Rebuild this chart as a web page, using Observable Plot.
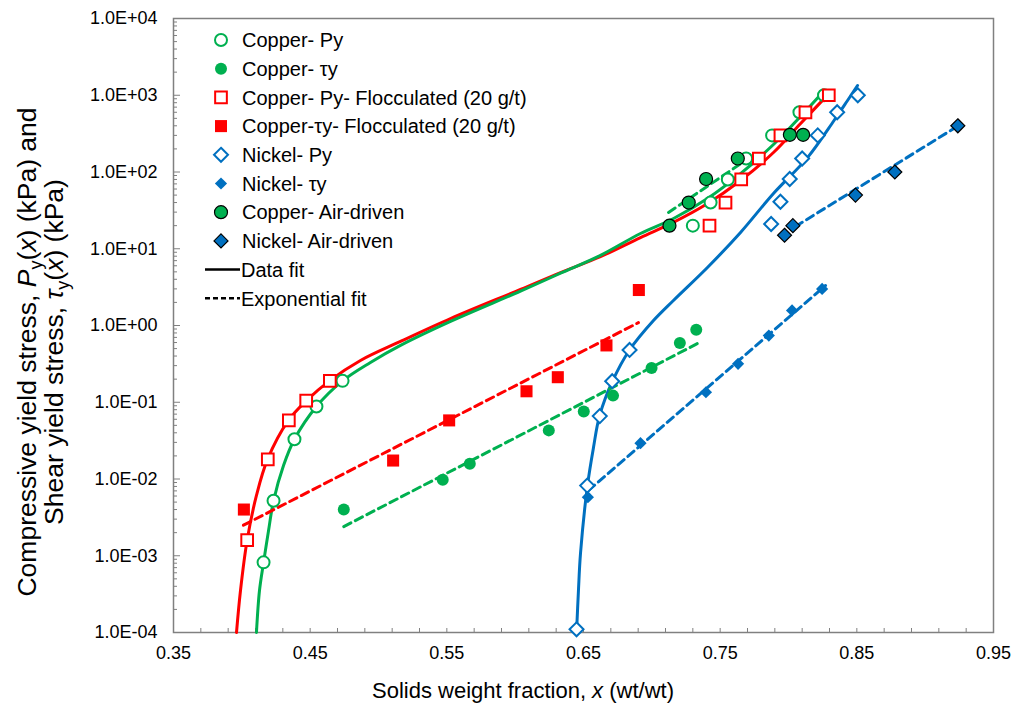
<!DOCTYPE html>
<html><head><meta charset="utf-8">
<script src="https://cdn.jsdelivr.net/npm/d3@7"></script>
<script src="https://cdn.jsdelivr.net/npm/@observablehq/plot@0.6"></script>
<style>body{margin:0;background:#fff;} #chart svg{display:block;}</style>
</head><body><div id="chart"></div>
<script>
// ---------- data ----------
const cuPyX  = [0.4159, 0.4232, 0.4385, 0.4546, 0.4737, 0.730, 0.743, 0.7556, 0.769, 0.788, 0.808, 0.826];
const cuPyY  = [0.00082, 0.0052, 0.033, 0.088, 0.19, 20, 40, 80, 150, 300, 600, 1000];
const cuTyX  = [0.4746, 0.547, 0.5668, 0.6246, 0.6502, 0.6716, 0.6998, 0.7205, 0.7325];
const cuTyY  = [0.004, 0.0098, 0.0158, 0.043, 0.076, 0.122, 0.28, 0.59, 0.88];
const cuPyFX = [0.4039, 0.419, 0.4344, 0.4471, 0.4644, 0.7422, 0.7539, 0.7654, 0.7783, 0.7941, 0.8124, 0.8295];
const cuPyFY = [0.0016, 0.018, 0.058, 0.105, 0.19, 20, 40, 80, 150, 300, 600, 1000];
const cuTyFX = [0.4015, 0.5107, 0.5517, 0.6083, 0.6312, 0.6668, 0.6905];
const cuTyFY = [0.004, 0.0174, 0.058, 0.139, 0.212, 0.55, 2.9];
const niPyX  = [0.6449, 0.6527, 0.6619, 0.671, 0.6837, 0.7873, 0.7941, 0.8009, 0.81, 0.8214, 0.8356, 0.8507];
const niPyY  = [0.00011, 0.0082, 0.066, 0.188, 0.48, 21, 41, 81, 150, 300, 600, 1000];
const niTyX  = [0.6532, 0.6917, 0.7396, 0.7631, 0.7856, 0.8026, 0.8246];
const niTyY  = [0.0058, 0.0293, 0.135, 0.317, 0.74, 1.57, 3.0];
const cuAirX = [0.7129, 0.727, 0.7397, 0.7629, 0.801, 0.8107];
const cuAirY = [20, 40, 81, 150, 305, 305];
const niAirX = [0.7971, 0.8032, 0.849, 0.8778, 0.9239];
const niAirY = [15, 20, 50, 100, 400];

// data-fit curves (solid)
const redFitX = [0.3961, 0.3990, 0.4039, 0.4107, 0.4188, 0.4341, 0.4473, 0.4641, 0.4868, 0.5161, 0.5527, 0.6039, 0.6332, 0.6624, 0.6917, 0.7161, 0.7405, 0.7649, 0.7892, 0.8087, 0.8295];
const redFitY = [1e-4, 3.5e-4, 1.6e-3, 6.1e-3, 0.018, 0.058, 0.105, 0.19, 0.35, 0.62, 1.23, 2.95, 4.9, 7.9, 14.0, 22.2, 38.5, 77.5, 181, 425, 1050];
const greenFitX = [0.4107, 0.4129, 0.4159, 0.4195, 0.4232, 0.4305, 0.4385, 0.4546, 0.4737, 0.4941, 0.5161, 0.5527, 0.6039, 0.6332, 0.6624, 0.6917, 0.7159, 0.7407, 0.7649, 0.789, 0.8088, 0.8249];
const greenFitY = [1e-4, 3.5e-4, 8.2e-4, 2.1e-3, 5.2e-3, 0.015, 0.033, 0.088, 0.19, 0.33, 0.55, 1.13, 2.8, 4.8, 8.2, 15.8, 24.8, 45, 95, 228, 529, 1086];
const blueFitX = [0.6449, 0.6463, 0.6478, 0.6529, 0.6573, 0.6617, 0.6712, 0.6837, 0.7012, 0.7158, 0.7407, 0.7649, 0.789, 0.8139, 0.8333, 0.8432, 0.8505];
const blueFitY = [1e-4, 3.5e-4, 1.07e-3, 8.2e-3, 0.0257, 0.066, 0.188, 0.48, 1.16, 2.12, 5.7, 16.3, 52.5, 154, 469, 855, 1340];

// exponential fits (dashed)
const redExpX = [0.4012, 0.6902],   redExpY = [0.0025, 1.09];
const greenExpX = [0.4746, 0.7332], greenExpY = [0.0024, 0.58];
const greenAirExpX = [0.7122, 0.7685], greenAirExpY = [29.7, 141];
const blueExpX = [0.6537, 0.8271],  blueExpY = [0.0071, 3.32];
const blueAirExpX = [0.8051, 0.9222], blueAirExpY = [19.5, 380];

// ticks / labels
const xMajorTicks = [0.35, 0.45, 0.55, 0.65, 0.75, 0.85, 0.95];
const xMinorTicks = d3.range(0.35, 0.951, 0.02);
const yMajorTicks = [1e-4, 1e-3, 1e-2, 1e-1, 1, 10, 100, 1000, 10000];
const yMinorTicks = yMajorTicks.slice(0, -1).flatMap(p => [2,3,4,5,6,7,8,9].map(m => m * p));
const legendLabels = ["Copper- Py", "Copper- τy", "Copper- Py- Flocculated (20 g/t)", "Copper-τy- Flocculated (20 g/t)",
  "Nickel- Py", "Nickel- τy", "Copper- Air-driven", "Nickel- Air-driven", "Data fit", "Exponential fit"];

// ---------- chart ----------
const GREEN = "#00B050", RED = "#FF0000", BLUE = "#0070C0";
const pts = (xs, ys) => xs.map((x, i) => ({x, y: ys[i]}));
const fmtY = d => { const e = Math.round(Math.log10(d)); return "1.0E" + (e < 0 ? "-" : "+") + String(Math.abs(e)).padStart(2, "0"); };

const solid = (xs, ys, c) => Plot.line(pts(xs, ys), {x: "x", y: "y", stroke: c, strokeWidth: 3, curve: "catmull-rom"});
const dashed = (xs, ys, c) => Plot.line(pts(xs, ys), {x: "x", y: "y", stroke: c, strokeWidth: 3, strokeDasharray: "8,5"});

const chart = Plot.plot({
  width: 1014, height: 705,
  marginLeft: 173, marginRight: 21, marginTop: 18, marginBottom: 73,
  style: {fontFamily: "'Liberation Sans', Arial, sans-serif", background: "#fff"},
  x: {domain: [0.35, 0.95]},
  y: {type: "log", domain: [1e-4, 1e4]},
  marks: [
    Plot.axisX(xMinorTicks, {tickSize: -4, fill: "none", stroke: "#808080", label: null}),
    Plot.axisX(xMajorTicks, {tickSize: 0, tickPadding: 14, tickFormat: d3.format(".2f"), fontSize: 18, fill: "#000", label: null}),
    Plot.axisY(yMinorTicks, {tickSize: -4, fill: "none", stroke: "#808080", label: null}),
    Plot.axisY(yMajorTicks, {tickSize: -7, fill: "none", stroke: "#808080", label: null}),
    Plot.axisY(yMajorTicks, {tickSize: 0, tickPadding: 16, tickFormat: fmtY, fontSize: 18, fill: "#000", label: null}),
    Plot.frame({stroke: "#808080", strokeWidth: 1.5}),
    solid(redFitX, redFitY, RED),
    solid(greenFitX, greenFitY, GREEN),
    solid(blueFitX, blueFitY, BLUE),
    dashed(redExpX, redExpY, RED),
    dashed(greenExpX, greenExpY, GREEN),
    dashed(greenAirExpX, greenAirExpY, GREEN),
    dashed(blueExpX, blueExpY, BLUE),
    dashed(blueAirExpX, blueAirExpY, BLUE),
    Plot.dot(pts(cuPyX, cuPyY), {x: "x", y: "y", symbol: "circle", r: 6, fill: "white", stroke: GREEN, strokeWidth: 2}),
    Plot.dot(pts(cuTyX, cuTyY), {x: "x", y: "y", symbol: "circle", r: 6, fill: GREEN, stroke: "none"}),
    Plot.dot(pts(cuPyFX, cuPyFY), {x: "x", y: "y", symbol: "square", r: 6.6, fill: "white", stroke: RED, strokeWidth: 2}),
    Plot.dot(pts(cuTyFX, cuTyFY), {x: "x", y: "y", symbol: "square", r: 6.8, fill: RED, stroke: "none"}),
    Plot.dot(pts(niPyX, niPyY), {x: "x", y: "y", symbol: "diamond2", r: 6.3, fill: "white", stroke: BLUE, strokeWidth: 2}),
    Plot.dot(pts(niTyX, niTyY), {x: "x", y: "y", symbol: "diamond2", r: 5.5, fill: BLUE, stroke: "none"}),
    Plot.dot(pts(cuAirX, cuAirY), {x: "x", y: "y", symbol: "circle", r: 6.5, fill: GREEN, stroke: "#000", strokeWidth: 1.2}),
    Plot.dot(pts(niAirX, niAirY), {x: "x", y: "y", symbol: "diamond2", r: 6.3, fill: BLUE, stroke: "#000", strokeWidth: 1.2})
  ]
});
document.getElementById("chart").append(chart);

// ---------- titles & legend ----------
const svg = d3.select(chart);
const FONT = "'Liberation Sans', Arial, sans-serif";

const xt = svg.append("text").attr("x", 523).attr("y", 698).attr("text-anchor", "middle")
  .attr("font-family", FONT).attr("font-size", 22).attr("fill", "#000");
xt.append("tspan").text("Solids weight fraction, ");
xt.append("tspan").attr("font-style", "italic").text("x");
xt.append("tspan").text(" (wt/wt)");

function yTitle(tx, parts) {
  const t = svg.append("text").attr("transform", `translate(${tx},352) rotate(-90)`).attr("text-anchor", "middle")
    .attr("font-family", FONT).attr("font-size", 26.5).attr("fill", "#000");
  parts.forEach(p => {
    const s = t.append("tspan").text(p.t);
    if (p.i) s.attr("font-style", "italic");
    if (p.sub) s.attr("font-size", 18).attr("dy", 6);
    if (p.up) s.attr("dy", -6);
  });
}
yTitle(36, [{t: "Compressive yield stress, "}, {t: "P", i: true}, {t: "y", sub: true}, {t: "(", up: true}, {t: "x", i: true}, {t: ") (kPa) and"}]);
yTitle(63, [{t: "Shear yield stress, "}, {t: "τ", i: true}, {t: "y", sub: true}, {t: "(", up: true}, {t: "x", i: true}, {t: ") (kPa)"}]);

const legendStyles = [
  {sym: d3.symbolCircle, r: 6, fill: "white", stroke: GREEN, sw: 2},
  {sym: d3.symbolCircle, r: 6, fill: GREEN, stroke: "none", sw: 0},
  {sym: d3.symbolSquare, r: 6.6, fill: "white", stroke: RED, sw: 2},
  {sym: d3.symbolSquare, r: 6.8, fill: RED, stroke: "none", sw: 0},
  {sym: d3.symbolDiamond2, r: 6.3, fill: "white", stroke: BLUE, sw: 2},
  {sym: d3.symbolDiamond2, r: 5.5, fill: BLUE, stroke: "none", sw: 0},
  {sym: d3.symbolCircle, r: 6.5, fill: GREEN, stroke: "#000", sw: 1.2},
  {sym: d3.symbolDiamond2, r: 6.3, fill: BLUE, stroke: "#000", sw: 1.2},
  {line: "none"},
  {line: "5,3"}
];
const lg = svg.append("g").attr("font-family", FONT).attr("font-size", 20).attr("text-anchor", "start");
legendLabels.forEach((lab, i) => {
  const y = 40 + i * 28.7, st = legendStyles[i];
  if (st.sym) {
    lg.append("path").attr("transform", `translate(221,${y})`)
      .attr("d", d3.symbol(st.sym, Math.PI * st.r * st.r)())
      .attr("fill", st.fill).attr("stroke", st.stroke).attr("stroke-width", st.sw);
  } else {
    lg.append("line").attr("x1", 205).attr("x2", 240).attr("y1", y).attr("y2", y)
      .attr("stroke", "#000").attr("stroke-width", 2.5).attr("stroke-dasharray", st.line);
  }
  lg.append("text").attr("x", st.sym ? 242 : 241).attr("y", y).attr("dy", "0.36em").attr("fill", "#000").text(lab);
});
</script>
</body></html>
